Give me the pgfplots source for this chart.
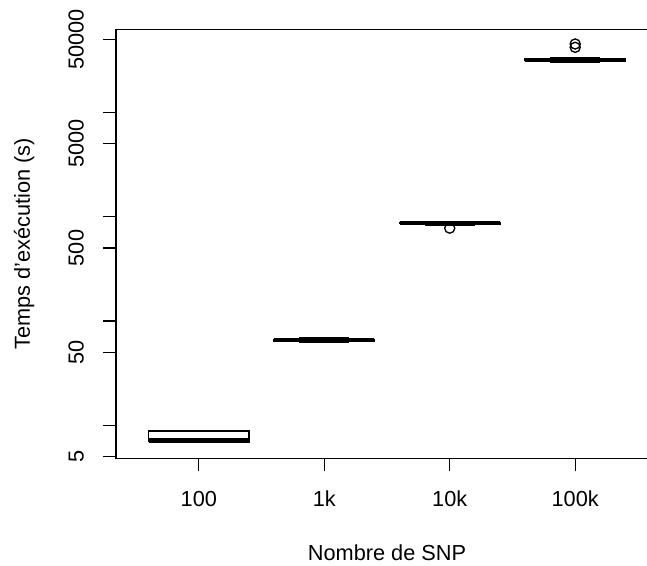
\documentclass[border=0pt]{standalone}
\usepackage{pgfplots}
\pgfplotsset{compat=1.18}
\usepackage{fontspec}
\setmainfont{Liberation Sans}
\begin{document}
\fontsize{16.3}{19.5}\selectfont
\begin{tikzpicture}
\begin{axis}[
  scale only axis, width=406.5pt, height=321.75pt,
  at={(87pt,80.025pt)}, anchor=south west,
  xmin=0.34, xmax=4.66,
  ymode=log, ymin=4.827, ymax=62350,
  xtick={1,2,3,4}, xticklabels={100,1k,10k,100k},
  ytick={5,10,50,100,500,1000,5000,10000,50000},
  yticklabels={5,,50,,500,,5000,,50000},
  minor ytick={}, yminorticks=false,
  tick align=outside, tick pos=left, major tick length=9.75pt,
  tick style={line width=1pt, black},
  axis line style={line width=1pt},
  /pgf/number format/assume math mode=true,
  xticklabel style={anchor=base}, xticklabel shift=26.4pt,
  yticklabel style={rotate=90, anchor=base}, yticklabel shift=14.6pt,
  xlabel={Nombre de SNP},
  ylabel={Temps d'exécution (s)},
  xlabel style={at={(axis description cs:0.5,-0.2382)}, anchor=base},
  ylabel style={at={(axis description cs:-0.1587,0.5)}, anchor=base},
  clip=false,
]
% --- 100 ---
\addplot[black, line width=1pt] coordinates {(0.6,6.9) (1.4,6.9) (1.4,8.82) (0.6,8.82) (0.6,6.9)};
\addplot[black, line width=3pt] coordinates {(0.6,7.23) (1.4,7.23)};
\addplot[black, line width=1pt] coordinates {(0.8,6.87) (1.2,6.87)};
\addplot[black, line width=1pt] coordinates {(0.8,8.82) (1.2,8.82)};
% --- 1k ---
\addplot[black, line width=1pt] coordinates {(1.6,63.5) (2.4,63.5) (2.4,66.5) (1.6,66.5) (1.6,63.5)};
\addplot[black, line width=3pt] coordinates {(1.6,65) (2.4,65)};
\addplot[black, line width=1pt] coordinates {(1.8,62.5) (2.2,62.5)};
\addplot[black, line width=1pt] coordinates {(1.8,69) (2.2,69)};
\addplot[black, line width=1pt, dashed] coordinates {(2,66.5) (2,69)};
% --- 10k ---
\addplot[black, line width=1pt] coordinates {(2.6,845) (3.4,845) (3.4,875) (2.6,875) (2.6,845)};
\addplot[black, line width=3pt] coordinates {(2.6,862) (3.4,862)};
\addplot[black, line width=1pt] coordinates {(2.8,830) (3.2,830)};
\addplot[black, line width=1pt] coordinates {(2.8,890) (3.2,890)};
\addplot[black, line width=1pt, only marks, mark=o, mark size=3.8pt] coordinates {(3,775)};
% --- 100k ---
\addplot[black, line width=1pt] coordinates {(3.6,30970) (4.4,30970) (4.4,32730) (3.6,32730) (3.6,30970)};
\addplot[black, line width=3pt] coordinates {(3.6,31870) (4.4,31870)};
\addplot[black, line width=1pt] coordinates {(3.8,30300) (4.2,30300)};
\addplot[black, line width=1pt] coordinates {(3.8,33460) (4.2,33460)};
\addplot[black, line width=1pt, only marks, mark=o, mark size=3.8pt] coordinates {(4,45080) (4,41900)};
\end{axis}
\pgfresetboundingbox
\path[use as bounding box] (0,0) rectangle (485.25pt,423.75pt);
\end{tikzpicture}
\end{document}
